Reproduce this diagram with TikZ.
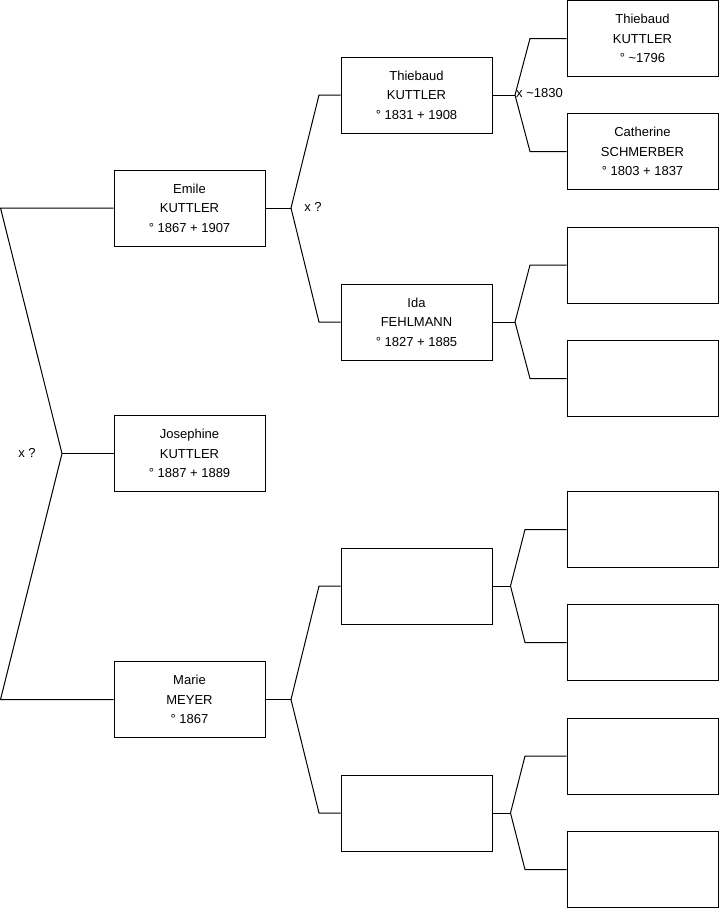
\documentclass[tikz,border=0pt]{standalone}
\usepackage{fontspec}
\setmainfont{Liberation Sans}
\begin{document}
\begin{tikzpicture}[x=1pt,y=-1pt,
  person/.style={draw=black, line width=1pt, rectangle, minimum width=151pt, minimum height=76pt,
    inner sep=0pt, align=center, font=\fontsize{13pt}{19.5pt}\selectfont},
  link/.style={draw=black, line width=1pt},
  lab/.style={font=\fontsize{13pt}{14pt}\selectfont, inner sep=0pt}]
\useasboundingbox (0,0) rectangle (719,908);
% generation 1
\node[person] (E) at (189.5,208) {Emile\\KUTTLER\\° 1867 + 1907};
\node[person] (J) at (189.5,453.5) {Josephine\\KUTTLER\\° 1887 + 1889};
\node[person] (M) at (189.5,699.5) {Marie\\MEYER\\° 1867};
% generation 2
\node[person] (T) at (416.5,95) {Thiebaud\\KUTTLER\\° 1831 + 1908};
\node[person] (I) at (416.5,322) {Ida\\FEHLMANN\\° 1827 + 1885};
\node[person] (C) at (416.5,586) {};
\node[person] (D) at (416.5,813) {};
% generation 3
\node[person] (T1) at (642.5,38.5) {Thiebaud\\KUTTLER\\° \symbol{126}1796};
\node[person] (T2) at (642.5,151.5) {Catherine\\SCHMERBER\\° 1803 + 1837};
\node[person] (I1) at (642.5,265) {};
\node[person] (I2) at (642.5,378.5) {};
\node[person] (C1) at (642.5,529.5) {};
\node[person] (C2) at (642.5,642.5) {};
\node[person] (D1) at (642.5,756) {};
\node[person] (D2) at (642.5,869.5) {};
% junctions
\coordinate (j1) at (62,453.5);
\coordinate (t1a) at (0.5,208);
\coordinate (t1b) at (0.5,699.5);
\coordinate (jE) at (291,208);
\coordinate (tEa) at (319,95);
\coordinate (tEb) at (319,322);
\coordinate (jM) at (291,699.5);
\coordinate (tMa) at (319,586);
\coordinate (tMb) at (319,813);
\coordinate (jT) at (515,95);
\coordinate (tTa) at (530,38.5);
\coordinate (tTb) at (530,151.5);
\coordinate (jI) at (515,322);
\coordinate (tIa) at (530,265);
\coordinate (tIb) at (530,378.5);
\coordinate (jC) at (510.5,586);
\coordinate (tCa) at (525,529.5);
\coordinate (tCb) at (525,642.5);
\coordinate (jD) at (510.5,813);
\coordinate (tDa) at (525,756);
\coordinate (tDb) at (525,869.5);
% connectors
\draw[link] (E.west) -- (t1a) -- (j1) -- (t1b) -- (M.west);
\draw[link] (j1) -- (J.west);
\draw[link] (E.east) -- (jE);
\draw[link] (T.west) -- (tEa) -- (jE) -- (tEb) -- (I.west);
\draw[link] (M.east) -- (jM);
\draw[link] (C.west) -- (tMa) -- (jM) -- (tMb) -- (D.west);
\draw[link] (T.east) -- (jT);
\draw[link] (T1.west) -- (tTa) -- (jT) -- (tTb) -- (T2.west);
\draw[link] (I.east) -- (jI);
\draw[link] (I1.west) -- (tIa) -- (jI) -- (tIb) -- (I2.west);
\draw[link] (C.east) -- (jC);
\draw[link] (C1.west) -- (tCa) -- (jC) -- (tCb) -- (C2.west);
\draw[link] (D.east) -- (jD);
\draw[link] (D1.west) -- (tDa) -- (jD) -- (tDb) -- (D2.west);
% labels
\node[lab] (l1) at (27,452.5) {x ?};
\node[lab] (l2) at (313,207) {x ?};
\node[lab, anchor=west] (l3) at (516,93) {x \symbol{126}1830};
\end{tikzpicture}
\end{document}
